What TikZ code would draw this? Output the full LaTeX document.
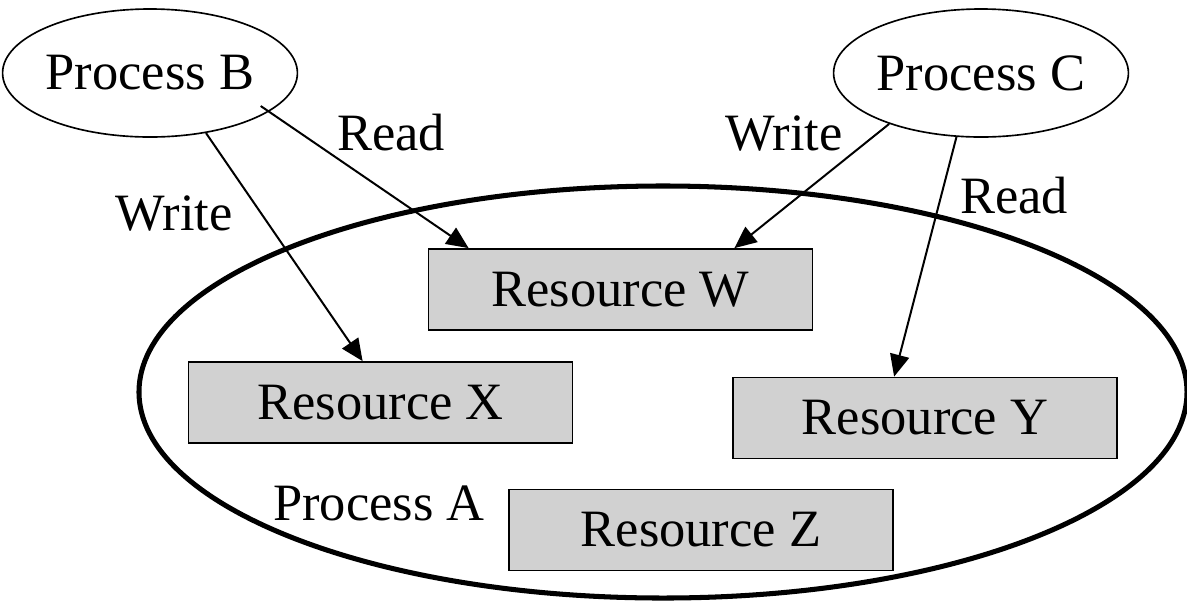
\documentclass[tikz,border=0pt]{standalone}
\usepackage{fontspec}
\setmainfont{Liberation Serif}
\usetikzlibrary{shapes.geometric,arrows.meta,calc}
\begin{document}
\begin{tikzpicture}[x=0.03cm,y=-0.03cm,
  every node/.style={font=\fontsize{44.8}{50}\selectfont},
  proc/.style={draw, ellipse, line width=1.4pt, inner sep=0pt, minimum width=8.19cm, minimum height=3.84cm},
  res/.style={draw, fill=gray!36, line width=1.5pt, inner sep=0pt, minimum width=11.52cm, minimum height=2.43cm},
  lbl/.style={anchor=base west, inner sep=0pt},
  arr/.style={line width=1.7pt, -{Triangle[length=0.66cm,width=0.58cm]}}
]
\useasboundingbox (0,0) rectangle (1187,603);
\node[draw, ellipse, line width=4.3pt, inner sep=0pt, minimum width=31.44cm, minimum height=12.36cm] (A) at (663,392) {};
\node[proc] (B) at (150,73) {Process B};
\node[proc] (C) at (981,73) {Process C};
\node[res] (W) at (620.5,289.5) {Resource W};
\node[res] (X) at (380.5,402.5) {Resource X};
\node[res] (Y) at (925,418) {Resource Y};
\node[res] (Z) at (701,530) {Resource Z};
\node[lbl] (rB) at (337,150) {Read};
\node[lbl] (wB) at (115,230) {Write};
\node[lbl] (wC) at (725,150) {Write};
\node[lbl] (rC) at (960,213) {Read};
\node[lbl] (pA) at (273,520) {Process A};
\draw[arr, shorten <=-0.3cm] (B.-18) -- ($(W.north west)+(41,0)$);
\draw[arr] (B.-47) -- ($(X.north west)+(175,0)$);
\draw[arr] (C.-151) -- ($(W.north east)+(-79,0)$);
\draw[arr] (C.-111) -- ($(Y.north west)+(162,0)$);
\end{tikzpicture}
\end{document}
